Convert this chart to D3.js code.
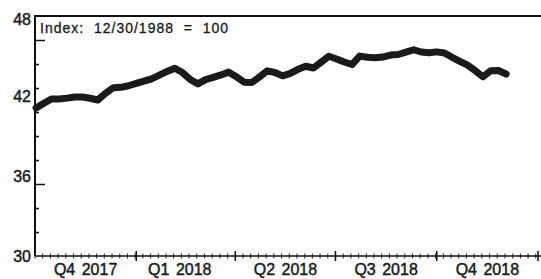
<html>
  <head>
    <meta name="viewport" content="width=device-width, initial-scale=1">
    <script src="https://d3js.org/d3.v7.min.js"></script>
    <style type="text/css">
      body { margin: 0; background: #fff; }
      svg { display: block; }
      text { font-family: "Liberation Sans", Arial, sans-serif; fill: #1a1a1a; stroke: #1a1a1a; stroke-width: 0.45px; }
    </style>
  </head>
  <body>
    <svg width="541" height="279"></svg>

    <script>
      // weekly index values (first week of Oct 2017 on)
      var startDate = "2017-10-02";
      var values = [
        41.10, 41.45, 41.78, 41.78, 41.84, 41.93, 41.93, 41.83, 41.70, 42.20,
        42.62, 42.65, 42.77, 42.94, 43.11, 43.29, 43.56, 43.84, 44.08, 43.76,
        43.24, 42.91, 43.23, 43.40, 43.58, 43.79, 43.44, 43.04, 43.01, 43.43,
        43.89, 43.76, 43.51, 43.70, 44.00, 44.23, 44.10, 44.54, 44.98, 44.78,
        44.55, 44.36, 44.99, 44.90, 44.87, 44.92, 45.07, 45.11, 45.29, 45.47,
        45.30, 45.24, 45.31, 45.23, 44.90, 44.60, 44.31, 43.90, 43.45, 43.90,
        43.91, 43.65
      ];
      var quarterLabels = ["Q4 2017", "Q1 2018", "Q2 2018", "Q3 2018", "Q4 2018"];
      var quarterStarts = ["2017-10-01", "2018-01-01", "2018-04-01", "2018-07-01", "2018-10-01", "2019-01-01"];
      var yLabels = [48, 42, 36, 30];
      var yMinor = [31.8, 33.6, 35.4, 37.2, 39.0, 40.8, 42.6, 44.4, 46.2];
      var yLong = [35.4, 46.2];
      var title = "Index:  12/30/1988  =  100";

      var parse = d3.timeParse("%Y-%m-%d");
      var t0 = parse(startDate);
      var data = values.map(function(v, i) {
        return { date: d3.timeDay.offset(t0, i * 7), v: v };
      });
      var qDates = quarterStarts.map(parse);

      // note: "top" is taken by window.top, so use other names
      var x0 = 35, x1 = 538, yTop = 16, yBot = 256;

      var x = d3.scaleTime()
        .domain([qDates[0], qDates[qDates.length - 1]])
        .range([x0, x1]);
      var y = d3.scaleLinear()
        .domain([30, 48])
        .range([yBot, yTop]);

      var svg = d3.select("svg");

      // frame: left axis + top rule
      svg.append("line")
        .attr("x1", x0).attr("x2", x0)
        .attr("y1", yTop - 1).attr("y2", yBot)
        .attr("stroke", "#111").attr("stroke-width", 2);
      svg.append("line")
        .attr("x1", x0 - 1).attr("x2", 541)
        .attr("y1", yTop).attr("y2", yTop)
        .attr("stroke", "#111").attr("stroke-width", 2);

      // y axis ticks pointing into the plot
      var yAxis = d3.axisRight(y)
        .tickValues(yMinor)
        .tickSize(4)
        .tickFormat("");
      var ya = svg.append("g")
        .attr("transform", "translate(" + x0 + ",0)")
        .call(yAxis);
      ya.select(".domain").remove();
      ya.selectAll(".tick line")
        .attr("stroke", "#111")
        .attr("stroke-width", 1.5)
        .attr("x2", function(d) { return yLong.indexOf(d) >= 0 ? 10 : 4; });

      svg.selectAll(".ylab")
        .data(yLabels)
        .enter().append("text")
        .attr("class", "ylab")
        .attr("x", x0 - 4)
        .attr("y", function(d) { return y(d); })
        .attr("dy", function(d) { return d === 48 ? "0.55em" : "0.38em"; })
        .attr("text-anchor", "end")
        .style("font-size", "16px")
        .text(function(d) { return d; });

      // x axis: weekly crosses and longer quarter ticks
      svg.append("line")
        .attr("x1", x0).attr("x2", 541)
        .attr("y1", yBot).attr("y2", yBot)
        .attr("stroke", "#111").attr("stroke-width", 1.5);

      var weeks = d3.timeWeek.range(qDates[0], qDates[qDates.length - 1]);
      svg.append("g").selectAll("line")
        .data(weeks)
        .enter().append("line")
        .attr("x1", function(d) { return x(d); })
        .attr("x2", function(d) { return x(d); })
        .attr("y1", yBot - 2.5).attr("y2", yBot + 2.5)
        .attr("stroke", "#222").attr("stroke-width", 1);

      svg.append("g").selectAll("line")
        .data(qDates.slice(1))
        .enter().append("line")
        .attr("x1", function(d) { return x(d); })
        .attr("x2", function(d) { return x(d); })
        .attr("y1", yBot - 5).attr("y2", yBot + 5)
        .attr("stroke", "#111").attr("stroke-width", 1.5);

      svg.selectAll(".xlab")
        .data(quarterLabels)
        .enter().append("text")
        .attr("class", "xlab")
        .attr("x", function(d, i) {
          return (x(qDates[i]) + x(qDates[i + 1])) / 2 - (i === 1 ? 6 : 0);
        })
        .attr("y", 275)
        .attr("text-anchor", "middle")
        .style("font-size", "16px")
        .style("word-spacing", "2px")
        .text(function(d) { return d; });

      svg.append("text")
        .attr("x", 40)
        .attr("y", 33)
        .style("font-size", "14px")
        .style("stroke-width", "0.3px")
        .style("letter-spacing", "1px")
        .style("white-space", "pre")
        .text(title);

      // the index line
      var line = d3.line()
        .x(function(d) { return x(d.date); })
        .y(function(d) { return y(d.v); });

      svg.append("path")
        .datum(data)
        .attr("d", line)
        .attr("fill", "none")
        .attr("stroke", "#1a1a1a")
        .attr("stroke-width", 7)
        .attr("stroke-linejoin", "round")
        .attr("stroke-linecap", "round");
    </script>
  </body>
</html>
